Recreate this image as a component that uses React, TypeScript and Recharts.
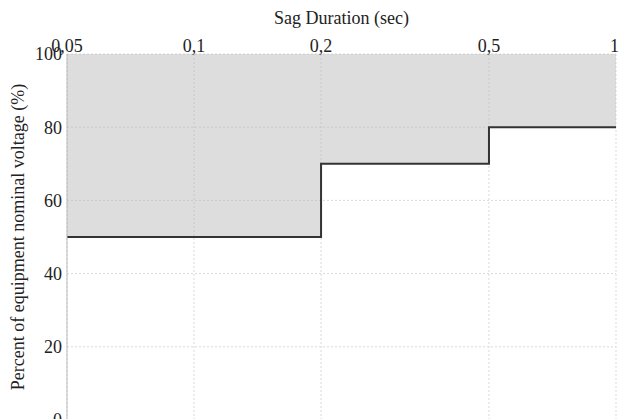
import React from "react";
import {
  ComposedChart,
  Area,
  Line,
  XAxis,
  YAxis,
  CartesianGrid,
} from "recharts";

// sag duration (sec) at each step change, and the voltage limit (%) from that point on
const durations = [0.05, 0.2, 0.5, 1];
const limits = [50, 70, 80, 80];
const xTicks = [0.05, 0.1, 0.2, 0.5, 1];
const yTicks = [0, 20, 40, 60, 80, 100];

const data = durations.map((d, i) => ({ d, v: limits[i], band: [limits[i], 100] }));

const font = "'Liberation Serif', serif";
const fs = 18;

export default function App() {
  return (
    <div style={{ position: "absolute", left: 0, top: 0, background: "#fff" }}>
      <ComposedChart
        width={619}
        height={440}
        data={data}
        margin={{ top: 29, right: 3, bottom: 20, left: 7 }}
        style={{ fontFamily: font }}
      >
        <Area
          type="stepAfter"
          dataKey="band"
          stroke="none"
          fill="#b4b4b4"
          fillOpacity={0.45}
          isAnimationActive={false}
        />
        <CartesianGrid stroke="#dadada" strokeDasharray="2 2" />
        <XAxis
          dataKey="d"
          type="number"
          scale="log"
          domain={[0.05, 1]}
          ticks={xTicks}
          orientation="top"
          height={25}
          axisLine={false}
          tickLine={false}
          tickSize={0}
          tickMargin={2}
          tick={{ fill: "#222", fontSize: fs }}
          tickFormatter={(t) => String(t).replace(".", ",")}
          label={{ value: "Sag Duration (sec)", position: "top", offset: 5, fill: "#222", fontSize: fs }}
        />
        <YAxis
          type="number"
          domain={[0, 100]}
          ticks={yTicks}
          width={60}
          axisLine={{ stroke: "#bbb" }}
          tickLine={false}
          tickSize={0}
          tickMargin={5}
          tick={{ fill: "#222", fontSize: fs }}
          label={{
            value: "Percent of equipment nominal voltage (%)",
            angle: -90,
            position: "insideLeft",
            offset: 11,
            fill: "#222",
            fontSize: fs,
            style: { textAnchor: "middle" },
          }}
        />
        <Line
          type="stepAfter"
          dataKey="v"
          stroke="#333"
          strokeWidth={2}
          dot={false}
          isAnimationActive={false}
        />
      </ComposedChart>
    </div>
  );
}
